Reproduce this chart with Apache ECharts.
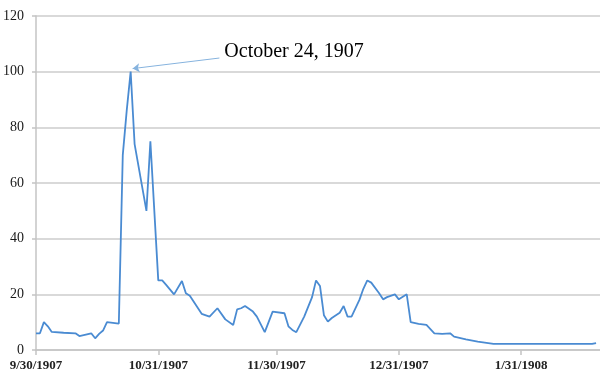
<!DOCTYPE html>
<html>
<head>
<meta charset="utf-8">
<style>
  html, body { margin: 0; padding: 0; background: #fff; }
  #chart { width: 600px; height: 377px; }
</style>
<script src="https://cdn.jsdelivr.net/npm/echarts@6/dist/echarts.min.js"></script>
</head>
<body>
<div id="chart"></div>
<script>
// daily readings, 9/30/1907 .. 2/19/1908
const dates = [
  '9/30/1907', '10/1/1907', '10/2/1907', '10/3/1907', '10/4/1907', '10/7/1907',
  '10/10/1907', '10/11/1907', '10/14/1907', '10/15/1907', '10/16/1907', '10/17/1907',
  '10/18/1907', '10/21/1907', '10/22/1907', '10/23/1907', '10/24/1907', '10/25/1907',
  '10/28/1907', '10/29/1907', '10/31/1907', '11/1/1907', '11/2/1907', '11/4/1907',
  '11/6/1907', '11/7/1907', '11/8/1907', '11/11/1907', '11/13/1907', '11/15/1907',
  '11/17/1907', '11/19/1907', '11/20/1907', '11/21/1907', '11/22/1907', '11/24/1907',
  '11/25/1907', '11/27/1907', '11/29/1907', '12/2/1907', '12/3/1907', '12/4/1907',
  '12/5/1907', '12/7/1907', '12/9/1907', '12/10/1907', '12/11/1907', '12/12/1907',
  '12/13/1907', '12/14/1907', '12/16/1907', '12/17/1907', '12/18/1907', '12/19/1907',
  '12/21/1907', '12/22/1907', '12/23/1907', '12/24/1907', '12/26/1907', '12/27/1907',
  '12/28/1907', '12/30/1907', '12/31/1907', '1/2/1908', '1/3/1908', '1/5/1908',
  '1/7/1908', '1/9/1908', '1/11/1908', '1/13/1908', '1/14/1908', '1/17/1908',
  '1/20/1908', '1/24/1908', '1/31/1908', '2/7/1908', '2/14/1908', '2/18/1908',
  '2/19/1908'
];
const values = [
  6, 6, 10, 8.5, 6.5, 6.2,
  6, 5, 6, 4.2, 5.8, 7,
  10, 9.5, 70, 86, 100, 74,
  50, 75, 25, 25, 23.4, 20,
  24.8, 20.4, 19.5, 13, 12, 15,
  11, 9, 14.6, 15, 15.8, 13.8,
  12, 6.4, 13.8, 13.2, 8.5, 7.2,
  6.4, 12, 19, 25, 23, 12.5,
  10.2, 11.5, 13.4, 15.8, 12, 12,
  18, 22, 25, 24.2, 20.4, 18.2,
  19, 20, 18.2, 20, 10, 9.4,
  9, 6, 5.8, 6, 4.8, 3.8,
  3, 2.2, 2.2, 2.2, 2.2, 2.2,
  2.5
];
const tickLabels = ['9/30/1907', '10/31/1907', '11/30/1907', '12/31/1907', '1/31/1908'];
const yTicks = [0, 20, 40, 60, 80, 100, 120];
const noteText = 'October 24, 1907';
const noteDate = '10/24/1907';

const BASE = Date.UTC(1907, 8, 30);
function dayOf(s) {
  const [m, d, y] = s.split('/').map(Number);
  return Math.round((Date.UTC(y, m - 1, d) - BASE) / 86400000);
}

const tickDays = tickLabels.map(dayOf);
const seriesData = dates.map((d, i) => [dayOf(d), values[i]]);
const peak = [dayOf(noteDate), values[dates.indexOf(noteDate)]];

const chart = echarts.init(document.getElementById('chart'));
const serif = '"Liberation Serif", "Times New Roman", serif';

chart.setOption({
  animation: false,
  grid: { left: 36, right: 0, top: 16, bottom: 27 },
  xAxis: {
    type: 'value',
    min: 0,
    max: dayOf('2/20/1908'),
    axisLine: { show: true, lineStyle: { color: '#c4c4c4', width: 1.5 } },
    axisTick: { show: true, customValues: tickDays, length: 5, lineStyle: { color: '#c4c4c4', width: 1.5 } },
    axisLabel: {
      customValues: tickDays,
      formatter: v => tickLabels[tickDays.indexOf(Math.round(v))] || '',
      fontFamily: serif,
      fontSize: 13,
      fontWeight: 'bold',
      color: '#222',
      margin: 9
    },
    splitLine: { show: false }
  },
  yAxis: {
    type: 'value',
    min: yTicks[0],
    max: yTicks[yTicks.length - 1],
    interval: 20,
    axisLine: { show: true, lineStyle: { color: '#c4c4c4', width: 1.5 } },
    axisTick: { show: true, length: 4, lineStyle: { color: '#c4c4c4', width: 1.5 } },
    axisLabel: {
      fontFamily: serif,
      fontSize: 14,
      color: '#1a1a1a',
      margin: 12
    },
    splitLine: { lineStyle: { color: '#d9d9d9', width: 2 } }
  },
  series: [{
    type: 'line',
    data: seriesData,
    symbol: 'none',
    lineStyle: { color: '#4a8bd2', width: 1.8 },
    markLine: {
      silent: true,
      symbol: ['none', 'arrow'],
      symbolSize: 7,
      label: { show: false },
      lineStyle: { color: '#86b3de', width: 1, type: 'solid' },
      data: [[
        { coord: [peak[0] + 22.5, peak[1] + 4.9] },
        { coord: [peak[0] + 0.5, peak[1] + 1.1] }
      ]]
    },
    markPoint: {
      silent: true,
      symbol: 'circle',
      symbolSize: 0,
      data: [{
        coord: [peak[0] + 23.5, peak[1] + 7.2],
        label: {
          show: true,
          position: 'right',
          distance: 1,
          formatter: noteText,
          fontFamily: serif,
          fontSize: 20,
          color: '#000'
        }
      }]
    }
  }]
});
</script>
</body>
</html>
